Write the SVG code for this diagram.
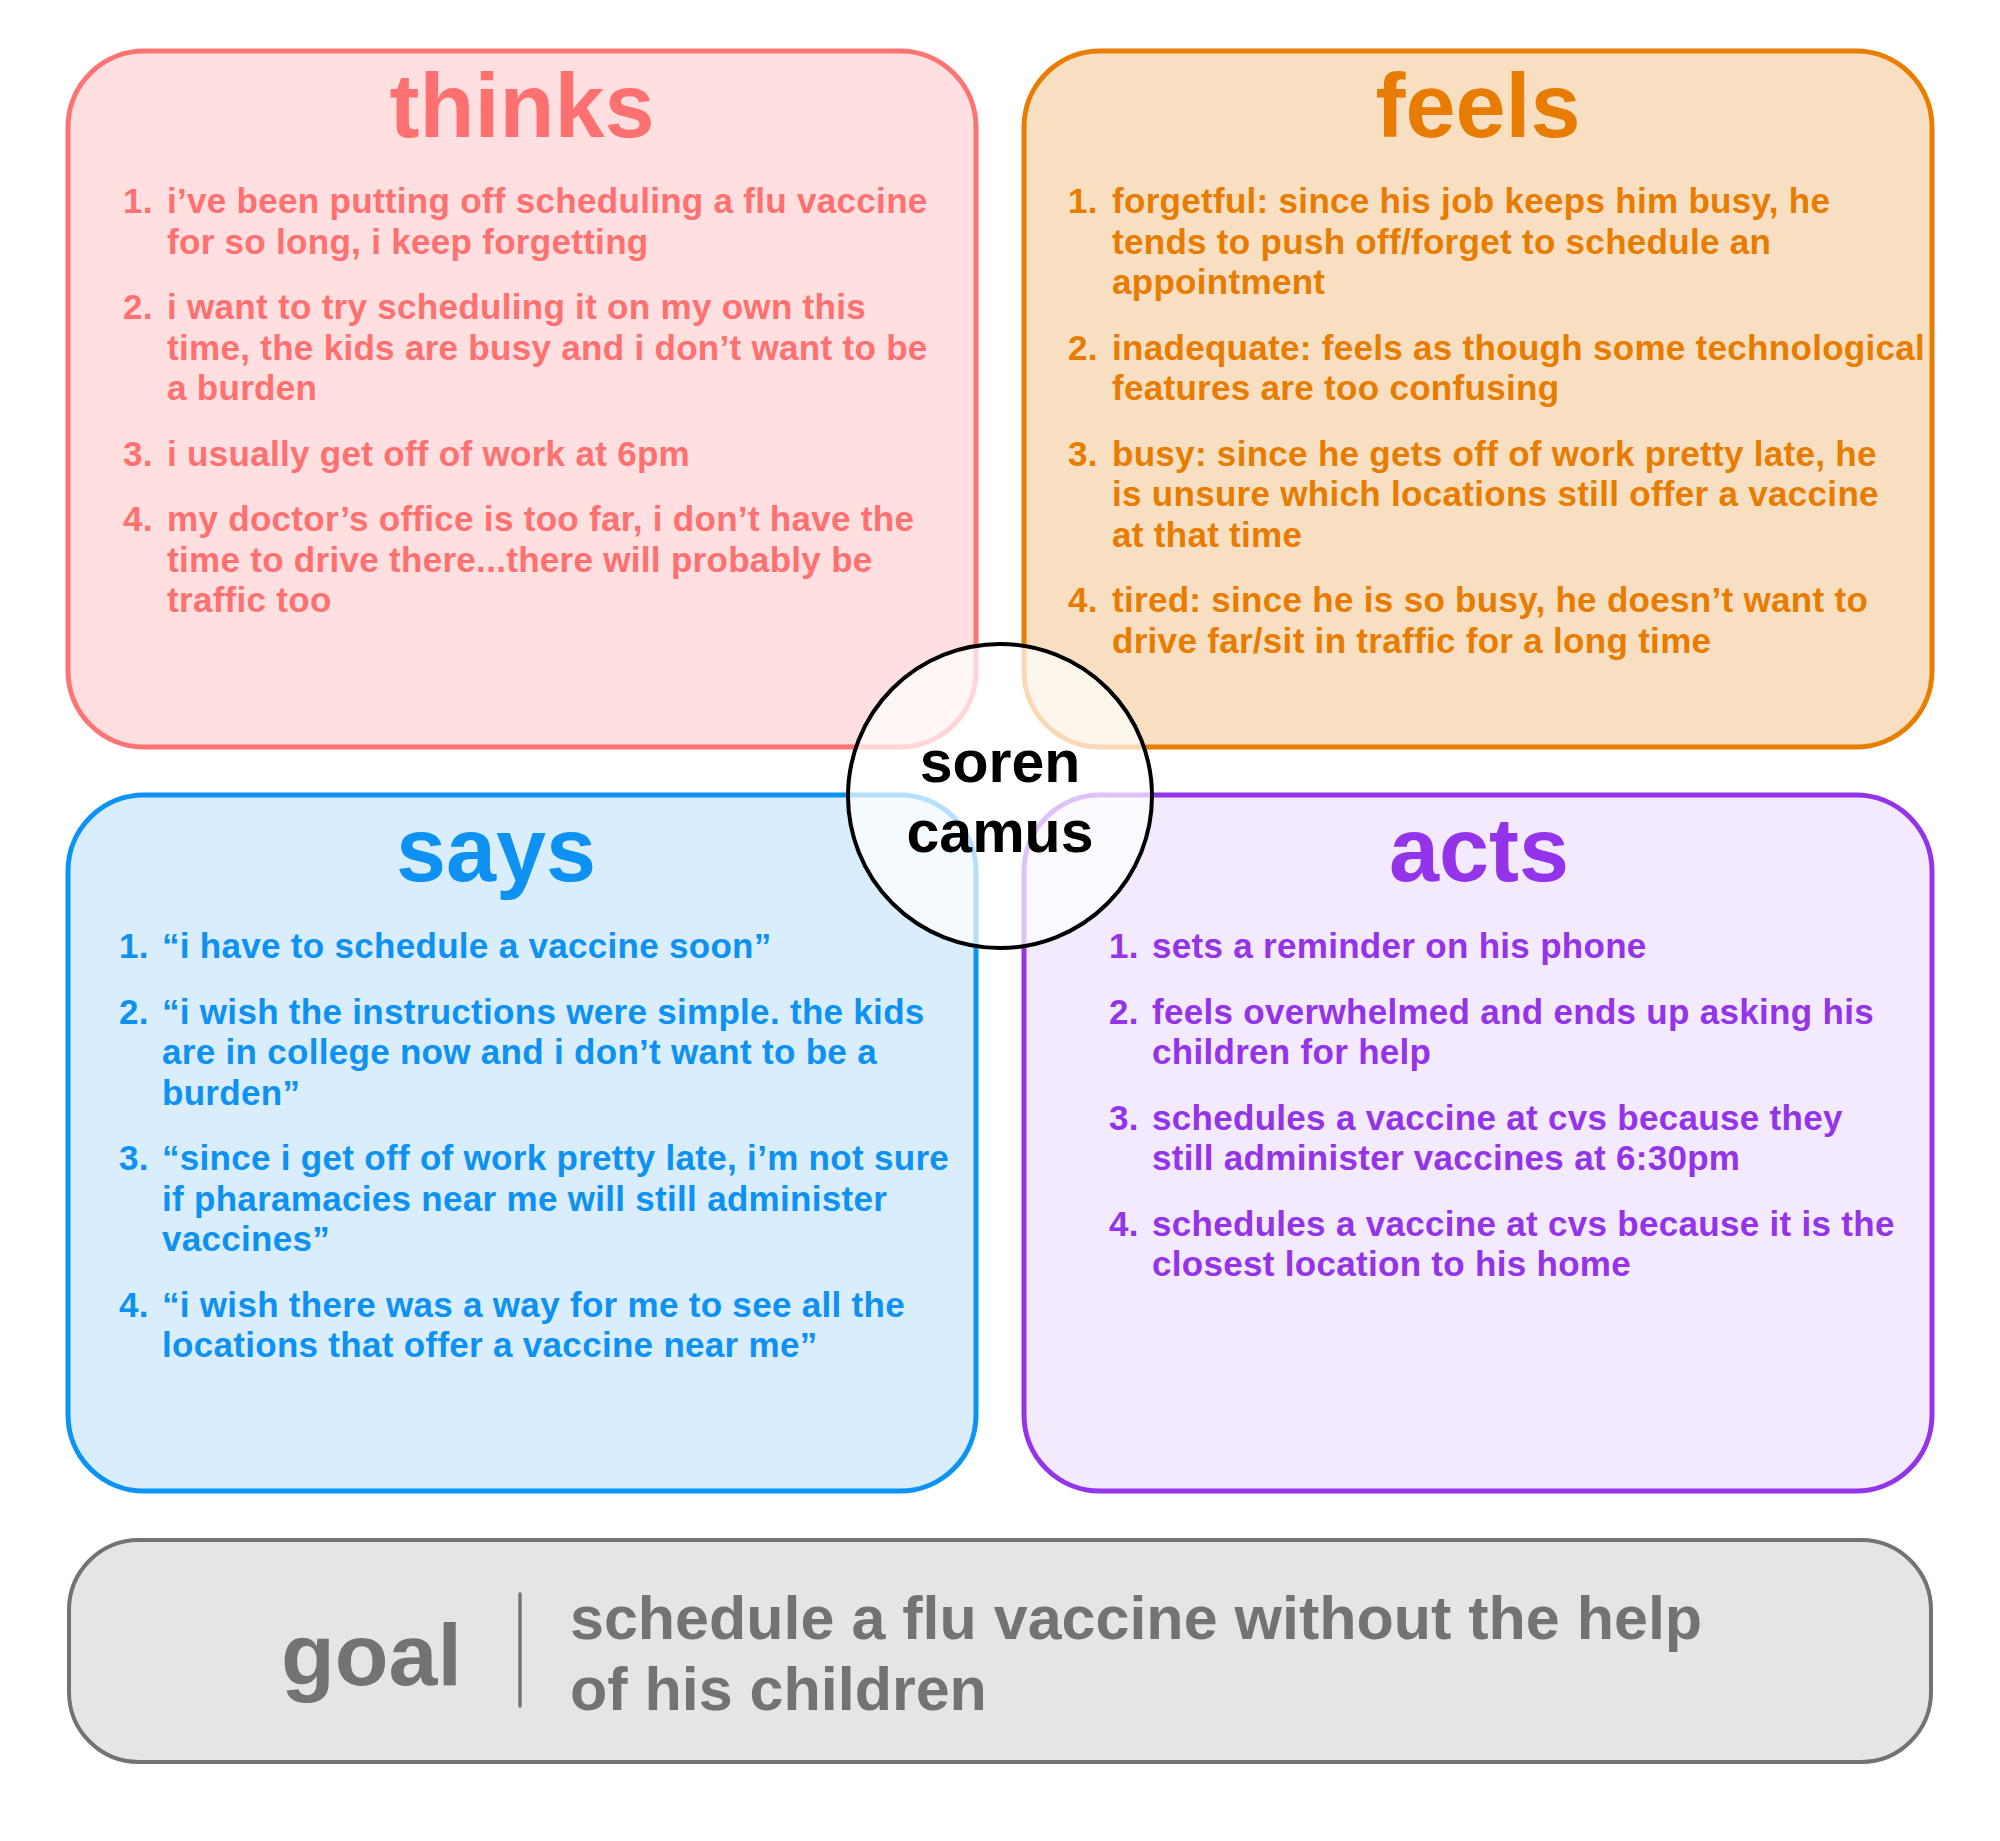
<svg xmlns="http://www.w3.org/2000/svg" width="2000" height="1841" viewBox="0 0 2000 1841">
<style>
  text { font-family: "Liberation Sans", Arial, sans-serif; font-weight: bold; }
  .box { stroke-width: 5; }
  .title { font-size: 90px; text-anchor: middle; }
  .item { font-size: 35px; letter-spacing: 0.3px; }
  .thinks .box { fill: #ffdfdf; stroke: #ff7373; }
  .thinks text { fill: #ff7070; }
  .feels .box { fill: #f8dfc2; stroke: #e97d00; }
  .feels text { fill: #e87c00; }
  .says .box { fill: #d9edfc; stroke: #0b93f6; }
  .says text { fill: #0d91f2; }
  .acts .box { fill: #f4eafd; stroke: #9333ea; }
  .acts text { fill: #9333ea; }
  .goal .box { fill: #e5e5e5; stroke: #737373; stroke-width: 4; }
  .goal text { fill: #737373; }
</style>
<rect width="2000" height="1841" fill="#ffffff"/>

<g id="thinks" class="thinks">
  <rect class="box" x="68" y="51" width="908" height="696" rx="76" ry="76"/>
  <text class="title" x="522" y="137">thinks</text>
  <text class="item" x="123" y="213">1.</text>
  <text class="item"><tspan x="167" y="213">i’ve been putting off scheduling a flu vaccine</tspan><tspan x="167" y="253.5">for so long, i keep forgetting</tspan></text>
  <text class="item" x="123" y="319">2.</text>
  <text class="item"><tspan x="167" y="319">i want to try scheduling it on my own this</tspan><tspan x="167" y="359.5">time, the kids are busy and i don’t want to be</tspan><tspan x="167" y="400">a burden</tspan></text>
  <text class="item" x="123" y="465.5">3.</text>
  <text class="item"><tspan x="167" y="465.5">i usually get off of work at 6pm</tspan></text>
  <text class="item" x="123" y="531">4.</text>
  <text class="item"><tspan x="167" y="531">my doctor’s office is too far, i don’t have the</tspan><tspan x="167" y="571.5">time to drive there...there will probably be</tspan><tspan x="167" y="612">traffic too</tspan></text>
</g>

<g id="feels" class="feels">
  <rect class="box" x="1024" y="51" width="908" height="696" rx="76" ry="76"/>
  <text class="title" x="1478" y="137">feels</text>
  <text class="item" x="1068" y="213">1.</text>
  <text class="item"><tspan x="1112" y="213">forgetful: since his job keeps him busy, he</tspan><tspan x="1112" y="253.5">tends to push off/forget to schedule an</tspan><tspan x="1112" y="294">appointment</tspan></text>
  <text class="item" x="1068" y="359.5">2.</text>
  <text class="item"><tspan x="1112" y="359.5">inadequate: feels as though some technological</tspan><tspan x="1112" y="400">features are too confusing</tspan></text>
  <text class="item" x="1068" y="465.5">3.</text>
  <text class="item"><tspan x="1112" y="465.5">busy: since he gets off of work pretty late, he</tspan><tspan x="1112" y="506">is unsure which locations still offer a vaccine</tspan><tspan x="1112" y="546.5">at that time</tspan></text>
  <text class="item" x="1068" y="612">4.</text>
  <text class="item"><tspan x="1112" y="612">tired: since he is so busy, he doesn’t want to</tspan><tspan x="1112" y="652.5">drive far/sit in traffic for a long time</tspan></text>
</g>

<g id="says" class="says">
  <rect class="box" x="68" y="795" width="908" height="696" rx="76" ry="76"/>
  <text class="title" x="496" y="881">says</text>
  <text class="item" x="119" y="958">1.</text>
  <text class="item"><tspan x="162" y="958">“i have to schedule a vaccine soon”</tspan></text>
  <text class="item" x="119" y="1023.5">2.</text>
  <text class="item"><tspan x="162" y="1023.5">“i wish the instructions were simple. the kids</tspan><tspan x="162" y="1064">are in college now and i don’t want to be a</tspan><tspan x="162" y="1104.5">burden”</tspan></text>
  <text class="item" x="119" y="1170">3.</text>
  <text class="item"><tspan x="162" y="1170">“since i get off of work pretty late, i’m not sure</tspan><tspan x="162" y="1210.5">if pharamacies near me will still administer</tspan><tspan x="162" y="1251">vaccines”</tspan></text>
  <text class="item" x="119" y="1316.5">4.</text>
  <text class="item"><tspan x="162" y="1316.5">“i wish there was a way for me to see all the</tspan><tspan x="162" y="1357">locations that offer a vaccine near me”</tspan></text>
</g>

<g id="acts" class="acts">
  <rect class="box" x="1024" y="795" width="908" height="696" rx="76" ry="76"/>
  <text class="title" x="1479" y="881">acts</text>
  <text class="item" x="1109" y="958">1.</text>
  <text class="item"><tspan x="1152" y="958">sets a reminder on his phone</tspan></text>
  <text class="item" x="1109" y="1023.5">2.</text>
  <text class="item"><tspan x="1152" y="1023.5">feels overwhelmed and ends up asking his</tspan><tspan x="1152" y="1064">children for help</tspan></text>
  <text class="item" x="1109" y="1129.5">3.</text>
  <text class="item"><tspan x="1152" y="1129.5">schedules a vaccine at cvs because they</tspan><tspan x="1152" y="1170">still administer vaccines at 6:30pm</tspan></text>
  <text class="item" x="1109" y="1235.5">4.</text>
  <text class="item"><tspan x="1152" y="1235.5">schedules a vaccine at cvs because it is the</tspan><tspan x="1152" y="1276">closest location to his home</tspan></text>
</g>

<g id="persona">
  <circle cx="1000" cy="796" r="152" fill="#ffffff" fill-opacity="0.7" stroke="#000000" stroke-width="4"/>
  <text x="1000" y="782" font-size="59" text-anchor="middle" fill="#000000">soren</text>
  <text x="1000" y="852" font-size="59" text-anchor="middle" fill="#000000">camus</text>
</g>

<g id="goal" class="goal">
  <rect class="box" x="69" y="1540" width="1862" height="222" rx="70" ry="70"/>
  <text x="281" y="1685" font-size="88">goal</text>
  <line x1="520" y1="1594" x2="520" y2="1706" stroke="#737373" stroke-width="3.5" stroke-linecap="round"/>
  <text font-size="61"><tspan x="570" y="1639">schedule a flu vaccine without the help</tspan><tspan x="570" y="1710">of his children</tspan></text>
</g>

<g id="connectors"></g>
</svg>
